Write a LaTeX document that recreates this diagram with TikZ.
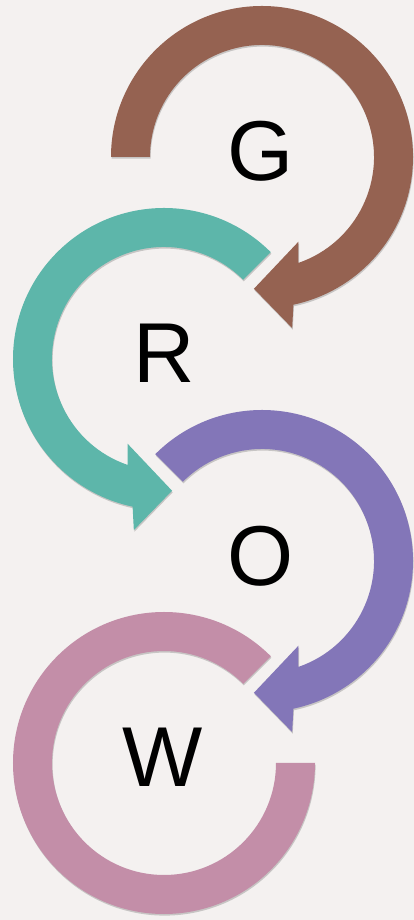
\documentclass[tikz,border=0pt]{standalone}
\usepackage{fontspec}
\setmainfont{Liberation Sans}
\usetikzlibrary{calc,shadows}
\definecolor{bgcol}{HTML}{F4F1F0}
\definecolor{cbrown}{HTML}{956251}
\definecolor{cteal}{HTML}{5DB6AA}
\definecolor{cpurple}{HTML}{8376B8}
\definecolor{cmauve}{HTML}{C38EA8}
\tikzset{
  band/.style={fill=#1, drop shadow={shadow xshift=0.6pt, shadow yshift=-1.6pt, fill=black, opacity=0.18}},
  letter/.style={inner sep=0pt, text=black, font=\fontsize{85}{85}\selectfont}
}
\begin{document}
\begin{tikzpicture}[x=1pt,y=1pt]
\fill[bgcol] (0,0) rectangle (414,920);
\useasboundingbox (0,0) rectangle (414,920);
\coordinate (cG) at (262,763);
\coordinate (cR) at (164,561);
\coordinate (cO) at (262,359);
\coordinate (cW) at (164,157);
% G : clockwise from 180
\path[band=cbrown] ($(cG)+(180:151pt)$) arc[start angle=180,end angle=-78,radius=151pt]
  -- ($(cG)+(-80:173.7pt)$) -- ($(cG)+(-93.5:132pt)$) -- ($(cG)+(-66.7:92.2pt)$)
  -- ($(cG)+(-71:112pt)$) arc[start angle=-71,end angle=180,radius=112pt] -- cycle;
% R : counter-clockwise from 45
\path[band=cteal] ($(cR)+(45:151pt)$) arc[start angle=45,end angle=258,radius=151pt]
  -- ($(cR)+(260:173.7pt)$) -- ($(cR)+(273.5:132pt)$) -- ($(cR)+(246.7:92.2pt)$)
  -- ($(cR)+(251:112pt)$) arc[start angle=251,end angle=45,radius=112pt] -- cycle;
% O : clockwise from 135
\path[band=cpurple] ($(cO)+(135:151pt)$) arc[start angle=135,end angle=-78,radius=151pt]
  -- ($(cO)+(-80:173.7pt)$) -- ($(cO)+(-93.5:132pt)$) -- ($(cO)+(-66.7:92.2pt)$)
  -- ($(cO)+(-71:112pt)$) arc[start angle=-71,end angle=135,radius=112pt] -- cycle;
% W : ring from 45 to 360
\path[band=cmauve] ($(cW)+(45:151pt)$) arc[start angle=45,end angle=360,radius=151pt]
  -- ($(cW)+(0:112pt)$) arc[start angle=360,end angle=45,radius=112pt] -- cycle;
\node[letter] (tG) at (261,768.3) {G};
\node[letter] (tR) at (164.5,566.3) {R};
\node[letter] (tO) at (260.5,364.2) {O};
\node[letter] (tW) at (163,162.5) {W};
\end{tikzpicture}
\end{document}
